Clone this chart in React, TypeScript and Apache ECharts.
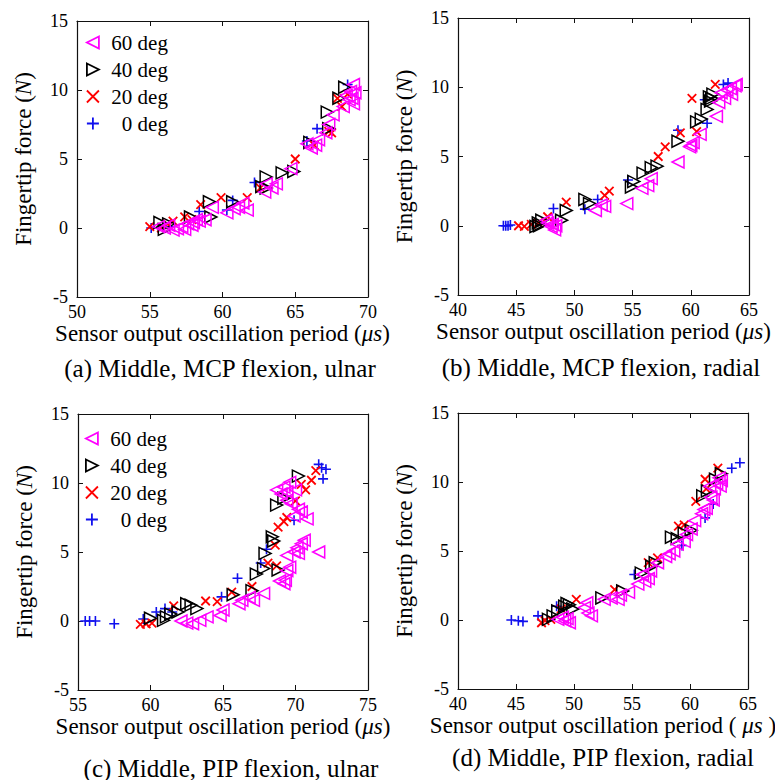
import React, { useEffect, useRef } from "react";
import * as echarts from "echarts";

// ---------- data ----------
const seriesNames = ["60 deg", "40 deg", "20 deg", "0 deg"];
const xTickMinA = 50, xTickMaxA = 70;
const xTickMinB = 40, xTickMaxB = 65;
const xTickMinC = 55, xTickMaxC = 75;
const xTickMinD = 40, xTickMaxD = 65;
const yTickMin = -5, yTickMax = 15, tickStep = 5;

const a60 = [[55.6,0.1],[56.0,0.0],[56.3,0.2],[56.6,-0.15],[56.9,-0.05],[57.2,0.1],[57.4,-0.1],[57.6,0.3],[57.9,0.2],[58.0,0.4],[58.2,0.6],[58.4,0.5],[58.8,0.6],[59.3,1.5],[60.3,1.1],[60.8,1.4],[61.1,1.5],[61.4,1.8],[61.7,1.3],[62.9,2.6],[63.0,3.2],[63.4,2.9],[63.7,3.2],[64.7,4.3],[65.8,6.1],[66.1,5.8],[66.4,6.0],[66.6,6.4],[67.1,6.9],[67.3,7.5],[67.6,8.2],[68.3,8.8],[68.5,9.6],[68.7,9.3],[68.8,9.9],[68.9,9.4],[69.0,9.0],[69.1,9.8],[69.0,10.4]];
const a40 = [[55.7,0.4],[56.0,-0.1],[56.3,0.3],[57.8,0.8],[59.1,1.9],[59.2,0.8],[60.7,1.9],[62.7,3.0],[63.0,3.7],[63.0,2.9],[64.1,4.0],[64.9,4.1],[66.0,6.2],[67.2,8.4],[67.3,7.2],[68.0,9.4],[68.4,10.2]];
const a20 = [[55.0,0.1],[55.8,0.0],[56.2,0.3],[56.6,0.5],[57.4,0.8],[57.9,0.6],[58.5,1.7],[59.9,2.2],[61.7,2.2],[62.6,2.9],[65.0,5.0],[66.3,6.0],[67.3,7.0],[67.5,6.9],[67.9,9.4],[68.2,8.8],[68.6,9.7]];
const a0 = [[55.1,0.0],[56.4,0.1],[58.4,1.2],[60.3,1.3],[60.7,2.0],[62.2,3.3],[65.8,6.3],[66.5,7.2],[68.6,10.4]];

const b60 = [[47.6,0.4],[47.7,0.2],[48.0,-0.05],[48.1,0.1],[48.3,-0.3],[48.4,0.0],[51.8,1.1],[52.3,1.5],[52.6,1.4],[54.5,1.6],[55.8,2.7],[56.3,2.9],[56.6,3.4],[58.9,4.6],[59.9,5.7],[60.0,5.8],[60.2,6.0],[60.8,6.6],[62.2,7.9],[62.4,8.9],[62.6,9.6],[62.9,9.2],[63.1,9.8],[63.4,9.9],[63.5,9.5],[63.8,10.1],[63.9,10.2]];
const b40 = [[46.7,-0.05],[46.9,0.2],[47.0,0.0],[47.2,0.4],[48.9,0.4],[49.3,1.1],[50.9,1.9],[51.3,1.6],[54.9,2.8],[55.1,3.2],[55.9,3.8],[56.6,4.2],[57.1,4.3],[58.9,6.1],[60.5,7.5],[60.9,7.7],[61.4,8.4],[61.6,9.3],[61.7,9.0],[61.8,9.2],[61.9,9.5]];
const b20 = [[45.2,0.0],[45.7,-0.05],[46.3,0.1],[46.9,0.2],[47.7,0.65],[49.3,1.7],[52.6,2.2],[53.0,2.5],[57.2,5.0],[57.8,5.7],[59.1,6.7],[60.1,9.2],[60.5,6.8],[62.1,10.2]];
const b0 = [[43.9,0.0],[44.1,0.0],[44.3,0.0],[44.5,0.05],[48.2,1.25],[50.9,1.2],[52.0,1.9],[54.6,3.3],[58.9,6.9],[61.2,9.1],[61.4,7.4],[62.8,10.2],[63.2,10.3]];

const c60 = [[62.1,0.0],[62.5,-0.15],[62.9,-0.2],[63.4,0.05],[63.9,0.3],[64.8,0.4],[65.0,0.8],[66.1,1.25],[66.3,1.5],[66.8,1.7],[67.1,1.5],[67.8,2.0],[68.9,2.9],[69.2,2.7],[69.3,2.95],[69.4,3.65],[69.6,3.9],[69.4,4.75],[69.9,5.0],[70.1,5.3],[70.2,4.9],[70.4,5.6],[70.6,5.85],[71.6,5.0],[68.7,9.5],[69.0,9.2],[69.2,9.7],[69.4,9.35],[69.6,10.05],[69.7,8.5],[70.0,9.5],[70.2,8.1],[70.4,7.9],[70.8,7.4],[69.4,8.75],[69.9,7.6]];
const c40 = [[60.0,0.2],[60.9,0.05],[61.1,0.3],[61.4,0.5],[61.9,0.65],[62.5,1.25],[62.8,1.15],[63.2,0.9],[65.7,1.9],[67.0,2.2],[67.3,3.4],[67.8,3.8],[67.9,4.9],[68.5,5.8],[68.4,6.1],[68.8,3.7],[68.7,8.4],[69.2,8.9],[70.2,10.5]];
const c20 = [[59.3,-0.25],[59.7,-0.2],[60.1,-0.15],[61.6,1.1],[63.8,1.45],[64.6,1.4],[65.6,2.1],[67.0,2.5],[68.1,4.2],[68.7,4.0],[68.6,5.5],[68.8,6.8],[69.2,7.2],[69.4,7.5],[70.0,8.7],[70.4,9.9],[70.7,9.5],[71.1,10.2],[71.4,10.9]];
const c0 = [[55.5,0.0],[55.8,0.0],[56.2,0.0],[57.5,-0.2],[59.5,0.15],[60.4,0.65],[61.0,0.9],[61.5,0.65],[64.9,1.75],[66.0,3.1],[67.6,4.2],[68.0,5.2],[69.9,7.3],[71.6,11.35],[71.8,11.1],[71.9,10.3],[72.1,11.0]];

const d60 = [[48.6,0.05],[49.0,0.2],[49.2,-0.05],[49.4,0.1],[49.6,-0.2],[50.9,0.9],[51.1,1.25],[51.2,0.5],[51.5,0.3],[52.6,1.5],[53.2,1.6],[53.8,1.5],[54.0,1.8],[54.7,2.0],[55.5,2.6],[56.1,2.8],[55.9,3.3],[56.4,3.0],[56.6,3.55],[57.2,4.15],[57.9,4.6],[58.2,4.8],[58.6,5.0],[58.9,5.5],[59.5,5.7],[59.7,6.2],[60.1,6.6],[60.4,7.2],[61.0,7.7],[61.2,8.0],[61.4,8.1],[61.8,8.9],[62.0,8.7],[62.1,9.5],[62.3,9.9],[62.6,9.7],[62.7,10.1],[62.5,10.3],[61.7,9.7]];
const d40 = [[47.8,0.05],[48.2,0.3],[48.6,0.65],[49.2,1.0],[49.4,1.2],[49.6,1.1],[49.9,0.8],[52.4,1.6],[54.2,2.1],[55.8,3.4],[56.7,3.9],[57.0,4.15],[58.4,6.0],[58.9,5.9],[59.5,6.3],[60.1,6.5],[61.1,9.0],[61.5,9.35],[62.2,10.2],[62.7,10.6]];
const d20 = [[47.2,-0.2],[47.5,-0.05],[48.0,0.05],[48.9,0.8],[50.2,1.5],[53.5,2.2],[56.4,4.15],[57.2,4.5],[59.0,6.8],[59.5,6.9],[60.5,8.6],[61.3,10.2],[61.4,9.5],[62.4,11.0]];
const d0 = [[44.6,0.0],[45.2,-0.05],[45.6,-0.1],[46.9,0.3],[48.5,1.0],[55.2,3.3],[59.3,5.4],[61.3,7.4],[62.0,8.4],[63.6,11.0],[64.3,11.4]];

const captions = [
  "(a) Middle, MCP flexion, ulnar",
  "(b) Middle, MCP flexion, radial",
  "(c) Middle, PIP flexion, ulnar",
  "(d) Middle, PIP flexion, radial",
];

// ---------- layout / style ----------
const SERIF = "Liberation Serif, Times New Roman, serif";
const panels = [
  { grid: { left: 77, top: 21, width: 291, height: 276 }, xr: [xTickMinA, xTickMaxA], data: [a60, a40, a20, a0], legendTop: 32, legendLeft: 86, cap: [220, 368], xName: "Sensor output oscillation period ({i|μs})" },
  { grid: { left: 458, top: 18, width: 291, height: 277 }, xr: [xTickMinB, xTickMaxB], data: [b60, b40, b20, b0], cap: [601, 367], xName: "Sensor output oscillation period ({i|μs})" },
  { grid: { left: 78, top: 414, width: 290, height: 276 }, xr: [xTickMinC, xTickMaxC], data: [c60, c40, c20, c0], legendTop: 428, legendLeft: 85, cap: [231, 768], xName: "Sensor output oscillation period ({i|μs})" },
  { grid: { left: 458, top: 413, width: 290, height: 276 }, xr: [xTickMinD, xTickMaxD], data: [d60, d40, d20, d0], cap: [603, 757], xName: "Sensor output oscillation period ( {i|μs} )" },
];

const markers = [
  { symbol: "path://M10,0L0,5L10,10Z", color: "#ff00ff", size: 12, width: 1.5 },
  { symbol: "path://M0,0L10,5L0,10Z", color: "#000000", size: 12, width: 1.5 },
  { symbol: "path://M0,0L10,10M10,0L0,10", color: "#ff0000", size: 8.5, width: 1.8 },
  { symbol: "path://M5,0L5,10M0,5L10,5", color: "#1010ee", size: 10, width: 1.6 },
];

const axisColor = "#111";

export default function App() {
  const ref = useRef<HTMLDivElement>(null);
  useEffect(() => {
    if (!ref.current) return;
    const chart = echarts.init(ref.current, undefined, { renderer: "svg" });

    const grids: any[] = [];
    const xAxes: any[] = [];
    const yAxes: any[] = [];
    const series: any[] = [];
    const legends: any[] = [];
    const graphics: any[] = [];

    panels.forEach((p, i) => {
      grids.push({ ...p.grid, containLabel: false, outerBoundsMode: "none" });
      const common = {
        gridIndex: i,
        axisLine: { show: true, onZero: false, lineStyle: { color: axisColor, width: 1.2 } },
        axisTick: { show: true, inside: true, length: 5, lineStyle: { color: axisColor, width: 1 } },
        splitLine: { show: false },
        minorTick: { show: false },
      };
      xAxes.push({
        ...common,
        type: "value",
        position: "bottom",
        min: p.xr[0],
        max: p.xr[1],
        interval: tickStep,
        axisLabel: { show: true, margin: 6, color: "#000", fontFamily: SERIF, fontSize: 18 },
        name: p.xName,
        nameLocation: "middle",
        nameGap: 24,
        nameTextStyle: {
          color: "#000", fontFamily: SERIF, fontSize: 23,
          rich: { i: { fontStyle: "italic", fontFamily: SERIF, fontSize: 23, color: "#000" } },
        },
      });
      xAxes.push({
        ...common,
        type: "value",
        position: "top",
        min: p.xr[0],
        max: p.xr[1],
        interval: tickStep,
        axisLabel: { show: false },
      });
      yAxes.push({
        ...common,
        type: "value",
        position: "left",
        min: yTickMin,
        max: yTickMax,
        interval: tickStep,
        axisLabel: { show: true, margin: 9, color: "#000", fontFamily: SERIF, fontSize: 18 },
        name: "Fingertip force ({i|N})",
        nameLocation: "middle",
        nameGap: 42,
        nameRotate: 90,
        nameTextStyle: {
          color: "#000", fontFamily: SERIF, fontSize: 23,
          rich: { i: { fontStyle: "italic", fontFamily: SERIF, fontSize: 23, color: "#000" } },
        },
      });
      yAxes.push({
        ...common,
        type: "value",
        position: "right",
        min: yTickMin,
        max: yTickMax,
        interval: tickStep,
        axisLabel: { show: false },
      });

      // draw order: 0 deg first, 60 deg last (on top)
      [3, 2, 1, 0].forEach((k) => {
        const m = markers[k];
        series.push({
          type: "scatter",
          name: seriesNames[k],
          xAxisIndex: 2 * i,
          yAxisIndex: 2 * i,
          data: p.data[k],
          symbol: m.symbol,
          symbolSize: m.size,
          symbolKeepAspect: true,
          itemStyle: { color: "rgba(0,0,0,0)", borderColor: m.color, borderWidth: m.width, opacity: 1 },
          emphasis: { disabled: true },
          z: 2 + (3 - k),
        });
      });

      if (p.legendTop !== undefined) {
        legends.push({
          show: true,
          orient: "vertical",
          left: p.legendLeft,
          top: p.legendTop,
          itemWidth: 24,
          itemHeight: 12,
          itemGap: 6,
          padding: 0,
          selectedMode: false,
          data: seriesNames,
          itemStyle: { borderWidth: 1.8 },
          formatter: (name: string) => "{t|" + name + "}",
          textStyle: {
            color: "#000",
            fontFamily: SERIF,
            fontSize: 21,
            rich: { t: { width: 58, align: "right", fontFamily: SERIF, fontSize: 21, lineHeight: 22, color: "#000" } },
          },
        });
      }

      graphics.push({
        type: "text",
        x: p.cap[0],
        y: p.cap[1],
        style: {
          text: captions[i],
          fontFamily: SERIF,
          fontSize: 25,
          fill: "#000",
          textAlign: "center",
          textVerticalAlign: "middle",
        },
      });
    });

    chart.setOption({
      animation: false,
      backgroundColor: "#fff",
      grid: grids,
      xAxis: xAxes,
      yAxis: yAxes,
      series,
      legend: legends,
      graphic: { elements: graphics },
      tooltip: { show: false },
    });
    return () => chart.dispose();
  }, []);

  return (
    <div
      ref={ref}
      style={{ position: "absolute", left: 0, top: 0, width: 775, height: 780, background: "#fff" }}
    />
  );
}
